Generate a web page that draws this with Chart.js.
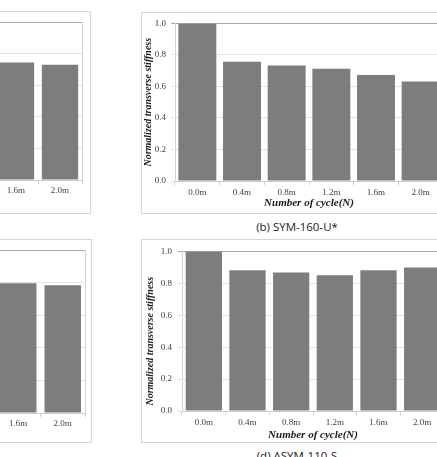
<!DOCTYPE html>
<html>
<head>
<meta charset="utf-8">
<script src="https://cdn.jsdelivr.net/npm/chart.js@4.4.0/dist/chart.umd.min.js"></script>
<style>
    html, body { margin: 0; padding: 0; background: #fff; }
    body { position: relative; width: 437px; height: 457px; overflow: hidden; }
    .panel { position: absolute; border: 1px solid #d6d6d6; background: #fff; }
    .panel canvas { display: block; }
    .caption { position: absolute; font: 11.5px "Open Sans", sans-serif; color: #222; white-space: nowrap; transform: translate(-50%, -50%); }
</style>
</head>
<body>

<div class="panel" style="left:-214px; top:11px;"><canvas id="chartA" width="303" height="201"></canvas></div>
<div class="panel" style="left:141px; top:12px;"><canvas id="chartB" width="303" height="200"></canvas></div>
<div class="panel" style="left:-213px; top:239px;"><canvas id="chartC" width="303" height="202"></canvas></div>
<div class="panel" style="left:141px; top:239px;"><canvas id="chartD" width="303" height="202"></canvas></div>

<div class="caption" style="left:297px; top:226px;">(b) SYM-160-U*</div>
<div class="caption" style="left:297px; top:455px;">(d) ASYM-110-S</div>

<script>
// Données
const categories = ['0.0m', '0.4m', '0.8m', '1.2m', '1.6m', '2.0m'];
const valuesA = [1.0, 0.81, 0.79, 0.77, 0.746, 0.732]; // (a) seules les 2 dernières sont visibles
const valuesB = [1.0, 0.756, 0.733, 0.713, 0.673, 0.631];
const valuesC = [1.0, 0.86, 0.84, 0.82, 0.798, 0.786]; // (c) seules les 2 dernières sont visibles
const valuesD = [1.0, 0.882, 0.868, 0.851, 0.882, 0.899];
const yTicks = [0, 0.2, 0.4, 0.6, 0.8, 1.0];

const yTitle = 'Normalized transverse stiffness';
const xTitle = 'Number of cycle(N)';

// Cadre autour de la zone de tracé (ligne de droite)
const plotFrame = {
    id: 'plotFrame',
    afterDraw(chart) {
        const { ctx, chartArea } = chart;
        ctx.save();
        ctx.strokeStyle = '#d4d4d4';
        ctx.lineWidth = 1;
        ctx.beginPath();
        ctx.moveTo(Math.round(chartArea.right) + 0.5, chartArea.top);
        ctx.lineTo(Math.round(chartArea.right) + 0.5, chartArea.bottom);
        ctx.stroke();
        ctx.restore();
    }
};

function makeChart(id, values, p) {
    const ctx = document.getElementById(id).getContext('2d');
    return new Chart(ctx, {
        type: 'bar',
        data: {
            labels: categories,
            datasets: [{
                data: values,
                backgroundColor: '#7d7d7d',
                borderWidth: 0,
                categoryPercentage: 1.0,
                barPercentage: p.bar
            }]
        },
        plugins: [plotFrame],
        options: {
            responsive: false,
            animation: false,
            devicePixelRatio: 1,
            layout: { padding: { top: p.top, right: p.right, left: 0, bottom: 0 } },
            plugins: { legend: { display: false }, tooltip: { enabled: false } },
            scales: {
                x: {
                    afterFit: (s) => { s.height = p.xh; },
                    grid: { drawOnChartArea: false, drawTicks: true, tickLength: 4, color: '#d0d0d0' },
                    border: { color: '#d0d0d0' },
                    ticks: { padding: p.xpad, color: '#404040', font: { family: 'Liberation Serif', size: 9 }, maxRotation: 0 },
                    title: {
                        display: true, text: xTitle, color: '#1a1a1a',
                        padding: { top: 0, bottom: p.xtb },
                        font: { family: 'Liberation Serif', size: 11, style: 'italic', weight: 'bold' }
                    }
                },
                y: {
                    min: 0, max: 1,
                    afterFit: (s) => { s.width = p.yw; },
                    afterBuildTicks: (s) => { s.ticks = yTicks.map(v => ({ value: v })); },
                    grid: {
                        color: (c) => (c.tick && c.tick.value === 1 ? '#a8a8a8' : '#e2e2e2'),
                        tickLength: 4
                    },
                    border: { color: '#d4d4d4' },
                    ticks: {
                        padding: p.ypad, color: '#404040',
                        font: { family: 'Liberation Serif', size: 9 },
                        callback: (v) => Number(v).toFixed(1)
                    },
                    title: {
                        display: true, text: yTitle + (p.ytail || ''), color: '#1a1a1a',
                        padding: { top: p.ytp, bottom: 0 },
                        font: { family: 'Liberation Serif', size: 10, style: 'italic', weight: 'bold' }
                    }
                }
            }
        }
    });
}

makeChart('chartA', valuesA, { top: 10, right: 8, xh: 33, yw: 31, bar: 0.825, xpad: 1, xtb: 3, ypad: 5, ytp: 0 });
makeChart('chartB', valuesB, { top: 8, right: 2, xh: 32, yw: 33, bar: 0.85, xpad: 2, xtb: 3, ypad: 5, ytp: 0 });
makeChart('chartC', valuesC, { top: 9, right: 6, xh: 29, yw: 30, bar: 0.82, xpad: 1, xtb: 1, ypad: 5, ytp: 0 });
// (d) : titre Y légèrement décalé vers le bas dans l'original
makeChart('chartD', valuesD, { top: 9, right: 1, xh: 31, yw: 40, bar: 0.83, xpad: 2, xtb: 0, ypad: 6, ytp: 2, ytail: '\u00a0'.repeat(8) });
</script>
</body>
</html>
